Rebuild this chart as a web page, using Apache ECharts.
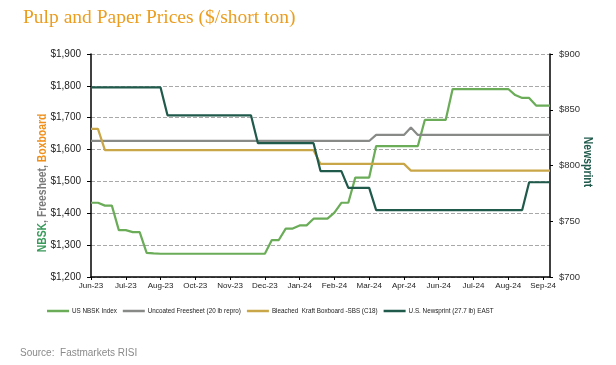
<!DOCTYPE html>
<html>
<head>
<meta charset="utf-8">
<script src="https://cdn.jsdelivr.net/npm/echarts@6/dist/echarts.min.js"></script>
<style>
html,body{margin:0;padding:0;background:#fff;}
#c{width:616px;height:365px;}
</style>
</head>
<body>
<div id="c"></div>
<script>
// Weekly categories (label shown every 5th week)
var weeks = [
 'Jun-23','Jun-23','Jul-23','Jul-23','Jul-23','Jul-23','Aug-23','Aug-23','Aug-23','Aug-23',
 'Aug-23','Sep-23','Sep-23','Sep-23','Sep-23','Oct-23','Oct-23','Oct-23','Oct-23','Oct-23',
 'Nov-23','Nov-23','Nov-23','Nov-23','Dec-23','Dec-23','Dec-23','Dec-23','Jan-24','Jan-24',
 'Jan-24','Jan-24','Jan-24','Feb-24','Feb-24','Feb-24','Feb-24','Mar-24','Mar-24','Mar-24',
 'Mar-24','Apr-24','Apr-24','Apr-24','Apr-24','Apr-24','May-24','May-24','May-24','May-24',
 'Jun-24','Jun-24','Jun-24','Jun-24','Jul-24','Jul-24','Jul-24','Jul-24','Jul-24','Aug-24',
 'Aug-24','Aug-24','Aug-24','Sep-24','Sep-24','Sep-24','Sep-24'
];
var seriesNames = ['US NBSK Index','Uncoated Freesheet (20 lb repro)','Bleached  Kraft Boxboard -SBS (C18)','U.S. Newsprint (27.7 lb) EAST'];
var nbsk = [
 1433,1433,1424,1424,1347,1347,1341,1341,1276,1274,
 1273,1273,1273,1273,1273,1273,1273,1273,1273,1273,
 1273,1273,1273,1273,1273,1273,1316,1316,1352,1352,
 1362,1362,1383,1383,1383,1402,1433,1433,1512,1512,
 1512,1611,1611,1611,1611,1611,1611,1611,1693,1693,
 1693,1693,1790,1790,1790,1790,1790,1790,1790,1790,
 1790,1771,1762,1762,1738,1738,1738
];
var freesheet = [
 1627,1627,1627,1627,1627,1627,1627,1627,1627,1627,
 1627,1627,1627,1627,1627,1627,1627,1627,1627,1627,
 1627,1627,1627,1627,1627,1627,1627,1627,1627,1627,
 1627,1627,1627,1627,1627,1627,1627,1627,1627,1627,
 1627,1646,1646,1646,1646,1646,1669,1646,1646,1646,
 1646,1646,1646,1646,1646,1646,1646,1646,1646,1646,
 1646,1646,1646,1646,1646,1646,1646
];
var boxboard = [
 1665,1665,1598,1598,1598,1598,1598,1598,1598,1598,
 1598,1598,1598,1598,1598,1598,1598,1598,1598,1598,
 1598,1598,1598,1598,1598,1598,1598,1598,1598,1598,
 1598,1598,1598,1555,1555,1555,1555,1555,1555,1555,
 1555,1555,1555,1555,1555,1555,1534,1534,1534,1534,
 1534,1534,1534,1534,1534,1534,1534,1534,1534,1534,
 1534,1534,1534,1534,1534,1534,1534
];
var newsprint = [
 870,870,870,870,870,870,870,870,870,870,
 870,845,845,845,845,845,845,845,845,845,
 845,845,845,845,820,820,820,820,820,820,
 820,820,820,795,795,795,795,780,780,780,
 780,760,760,760,760,760,760,760,760,760,
 760,760,760,760,760,760,760,760,760,760,
 760,760,760,785,785,785,785
];
var colors = ['#6aac58','#878a87','#c9a648','#1f5a4b'];

var chart = echarts.init(document.getElementById('c'), null, {renderer:'canvas'});
var lineSeries = function(name, data, color, yIdx){
  return {name:name, type:'line', data:data, yAxisIndex:yIdx, showSymbol:false, symbol:'none',
    lineStyle:{color:color, width:2.2}, itemStyle:{color:color}, animation:false};
};
var narrow = '"Liberation Sans Narrow", "Arial Narrow", "Liberation Sans", Arial, sans-serif';
chart.setOption({
  animation:false,
  textStyle:{fontFamily:'Liberation Sans, Arial, sans-serif'},
  title:{
    text:'Pulp and Paper Prices ($/short ton)', left:18, top:3,
    textStyle:{fontFamily:'Liberation Serif, Times New Roman, serif', fontSize:19.5, fontWeight:'normal', color:'#eb9d1e'}
  },
  grid:{left:91, right:66, top:54, bottom:88, containLabel:false},
  legend:{
    data:seriesNames, left:42, top:303, icon:'rect', itemWidth:22, itemHeight:2.5, itemGap:6,
    textStyle:{fontSize:6.3, color:'#222', padding:[0,0,0,-2]}
  },
  xAxis:{
    type:'category', data:weeks, boundaryGap:false,
    axisLine:{lineStyle:{color:'#000', width:1.5}},
    axisTick:{interval:4, length:3, lineStyle:{color:'#000'}},
    axisLabel:{interval:4, fontSize:8, color:'#222', margin:5},
    splitLine:{show:false}
  },
  yAxis:[{
    type:'value', min:1200, max:1900, interval:100, position:'left',
    axisLine:{show:true, lineStyle:{color:'#000', width:1.5}},
    axisTick:{show:true, length:4, lineStyle:{color:'#000'}},
    axisLabel:{fontSize:10, color:'#222', margin:10, formatter:function(v){return '$'+v.toLocaleString('en-US');}},
    splitLine:{show:true, lineStyle:{color:'#a8a8a8', type:'dashed', width:1}}
  },{
    type:'value', min:700, max:900, interval:50, position:'right',
    axisLine:{show:true, lineStyle:{color:'#000', width:1.5}},
    axisTick:{show:true, length:3, lineStyle:{color:'#000'}},
    axisLabel:{fontSize:9.5, color:'#333', margin:9, formatter:function(v){return '$'+v;}},
    splitLine:{show:false}
  }],
  graphic:[{
    type:'text', x:42, y:183, rotation:Math.PI/2, scaleX:0.8,
    style:{
      text:'{a|NBSK}{b|, Freesheet, }{c|Boxboard}',
      align:'center', verticalAlign:'middle',
      rich:{
        a:{fill:'#3a9a5c', fontSize:13, fontWeight:'bold', fontFamily:narrow},
        b:{fill:'#7a7a7a', fontSize:13, fontWeight:'bold', fontFamily:narrow},
        c:{fill:'#f0901c', fontSize:13, fontWeight:'bold', fontFamily:narrow}
      }
    }
  },{
    type:'text', x:588, y:162, rotation:-Math.PI/2, scaleX:0.8,
    style:{text:'Newsprint', align:'center', verticalAlign:'middle', fill:'#1f5a4b',
      font:'bold 13px ' + narrow}
  },{
    type:'text', x:20, y:353,
    style:{text:'Source:  Fastmarkets RISI', verticalAlign:'middle', fill:'#8a8a8a',
      font:'10px "Liberation Sans", Arial, sans-serif'}
  }],
  series:[
    lineSeries(seriesNames[0], nbsk, colors[0], 0),
    lineSeries(seriesNames[1], freesheet, colors[1], 0),
    lineSeries(seriesNames[2], boxboard, colors[2], 0),
    lineSeries(seriesNames[3], newsprint, colors[3], 1)
  ]
});
</script>
</body>
</html>
